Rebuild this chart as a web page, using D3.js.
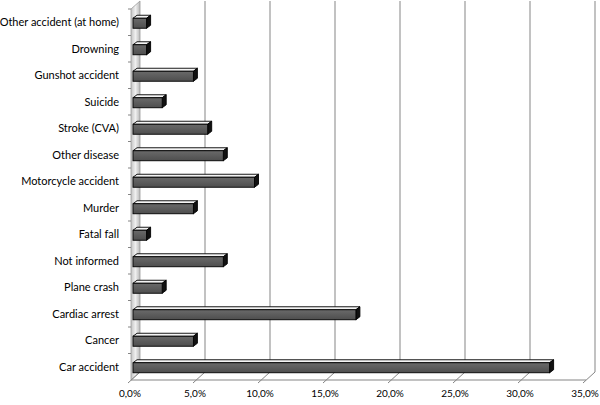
<!DOCTYPE html>
<html>
<head>
<script src="https://d3js.org/d3.v7.min.js" charset="utf-8"></script>
<style>
  body { margin: 0; background: #fff; }
  text { font-family: Lato, "Open Sans", sans-serif; fill: #000; }
</style>
</head>
<body>
<div id="chart"></div>
<script>
// categories from top to bottom
var causes = ["Other accident (at home)", "Drowning", "Gunshot accident", "Suicide",
              "Stroke (CVA)", "Other disease", "Motorcycle accident", "Murder",
              "Fatal fall", "Not informed", "Plane crash", "Cardiac arrest",
              "Cancer", "Car accident"];
var shares = [1.2, 1.2, 4.8, 2.4, 5.9, 7.1, 9.5, 4.8, 1.2, 7.1, 2.4, 17.3, 4.8, 32.2];
var xTicks = [0, 5, 10, 15, 20, 25, 30, 35];

var W = 600, H = 405;
var dx = 9, dy = -8;      // depth of the walls
var bdx = 4, bdy = -3;    // depth of a bar

var svg = d3.select("#chart").append("svg")
    .attr("width", W)
    .attr("height", H);

var x = d3.scaleLinear().domain([0, 35]).range([131, 586]);
var y = d3.scaleBand().domain(causes).range([9, 380]);

var defs = svg.append("defs");
var wallGrad = defs.append("linearGradient").attr("id", "wall")
    .attr("x1", 0).attr("x2", 1).attr("y1", 0).attr("y2", 0);
wallGrad.append("stop").attr("offset", "0%").attr("stop-color", "#c4c4c4");
wallGrad.append("stop").attr("offset", "50%").attr("stop-color", "#efefef");
wallGrad.append("stop").attr("offset", "100%").attr("stop-color", "#b8b8b8");

var frontGrad = defs.append("linearGradient").attr("id", "front")
    .attr("x1", 0).attr("x2", 0).attr("y1", 0).attr("y2", 1);
frontGrad.append("stop").attr("offset", "0%").attr("stop-color", "#6a6a6a");
frontGrad.append("stop").attr("offset", "100%").attr("stop-color", "#4e4e4e");

var x0 = x(0), yTop = y.range()[0], yBot = y.range()[1];

// left side wall
svg.append("polygon")
    .attr("points", [[x0, yBot], [x0, yTop], [x0 + dx, yTop + dy], [x0 + dx, yBot + dy]].join(" "))
    .attr("fill", "url(#wall)")
    .attr("stroke", "#9a9a9a")
    .attr("stroke-width", 0.8);

// back wall gridlines
svg.selectAll("line.grid")
    .data(xTicks.slice(1))
  .enter().append("line")
    .attr("class", "grid")
    .attr("x1", function(d) { return x(d) + dx; })
    .attr("x2", function(d) { return x(d) + dx; })
    .attr("y1", yTop + dy)
    .attr("y2", yBot + dy)
    .attr("stroke", "#858585")
    .attr("stroke-width", 1);

// floor: front edge and diagonal ticks
svg.append("line")
    .attr("x1", x0).attr("x2", x(35))
    .attr("y1", yBot).attr("y2", yBot)
    .attr("stroke", "#858585");

svg.selectAll("line.xtick")
    .data(xTicks)
  .enter().append("line")
    .attr("class", "xtick")
    .attr("x1", function(d) { return x(d) - 3; })
    .attr("y1", yBot + 3)
    .attr("x2", function(d) { return x(d) + dx; })
    .attr("y2", yBot + dy)
    .attr("stroke", "#858585");

// y ticks on the wall edge
svg.selectAll("line.ytick")
    .data(causes)
  .enter().append("line")
    .attr("class", "ytick")
    .attr("x1", x0 - 3).attr("x2", x0)
    .attr("y1", function(d) { return y(d); })
    .attr("y2", function(d) { return y(d); })
    .attr("stroke", "#858585");

// bars
var bh = 10;
var bars = svg.selectAll("g.bar")
    .data(causes)
  .enter().append("g")
    .attr("class", "bar");

function barX0() { return x0 + 2; }
function barY(d) { return y(d) + y.bandwidth() / 2 - bh / 2 + 1; }
function barX1(d, i) { return x(shares[i]); }

bars.append("polygon")   // top face
    .attr("points", function(d, i) {
      var a = barX0(), b = barX1(d, i), t = barY(d);
      return [[a, t], [a + bdx, t + bdy], [b + bdx, t + bdy], [b, t]].join(" ");
    })
    .attr("fill", "#f4f4f4")
    .attr("stroke", "#000")
    .attr("stroke-width", 0.9);

bars.append("polygon")   // right face
    .attr("points", function(d, i) {
      var b = barX1(d, i), t = barY(d);
      return [[b, t], [b + bdx, t + bdy], [b + bdx, t + bdy + bh], [b, t + bh]].join(" ");
    })
    .attr("fill", "#111")
    .attr("stroke", "#000")
    .attr("stroke-width", 0.9);

bars.append("rect")      // front face
    .attr("x", barX0())
    .attr("y", function(d) { return barY(d); })
    .attr("width", function(d, i) { return barX1(d, i) - barX0(); })
    .attr("height", bh)
    .attr("fill", "url(#front)")
    .attr("stroke", "#000")
    .attr("stroke-width", 0.9);

// category labels
svg.selectAll("text.cat")
    .data(causes)
  .enter().append("text")
    .attr("class", "cat")
    .attr("x", 119)
    .attr("y", function(d) { return y(d) + y.bandwidth() / 2 + 4; })
    .attr("text-anchor", "end")
    .attr("font-size", 11)
    .text(function(d) { return d; });

// x tick labels
svg.selectAll("text.xlab")
    .data(xTicks)
  .enter().append("text")
    .attr("class", "xlab")
    .attr("x", function(d) { return x(d) - 1; })
    .attr("y", 397)
    .attr("text-anchor", "middle")
    .attr("font-size", 10)
    .text(function(d) { return d3.format(".1f")(d).replace(".", ",") + "%"; });
</script>
</body>
</html>
